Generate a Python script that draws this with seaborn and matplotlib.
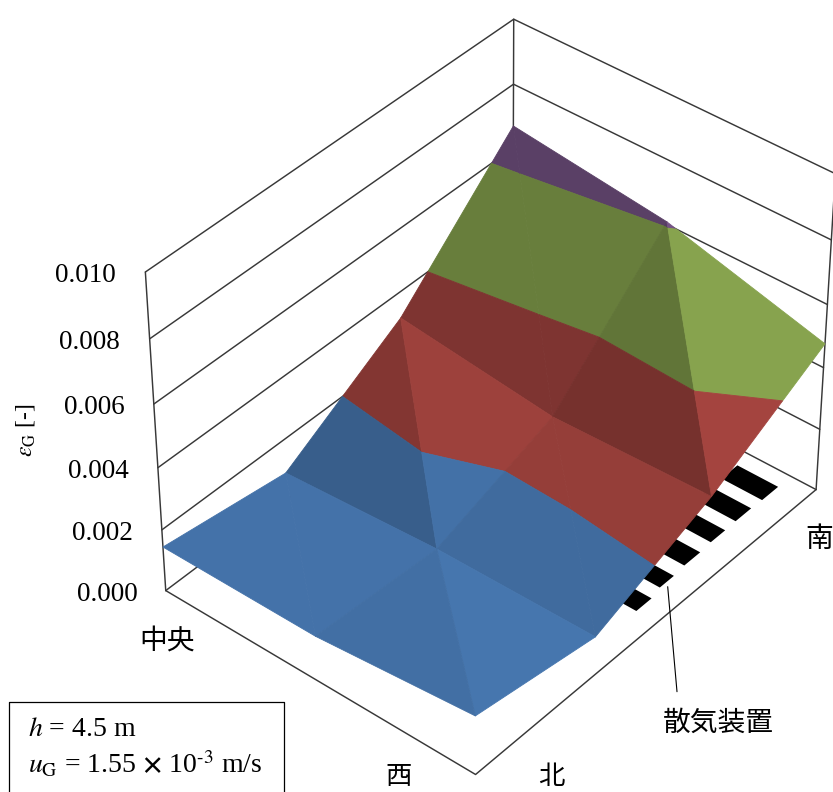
import numpy as np
import matplotlib
matplotlib.use('Agg')
import matplotlib.pyplot as plt
import seaborn as sns
from mpl_toolkits.mplot3d.art3d import Poly3DCollection

# gas holdup, one row per position from north to south
x_pos = [0, 0.5, 1]
y_pos = [0, 1 / 3, 2 / 3, 1]
row_north = [0.00144, 0.00145, 0.00191]
row_2 = [0.00089, 0.00120, 0.00125]
row_3 = [0.00315, 0.00257, 0.00274]
row_south = [0.00669, 0.00608, 0.00476]
holdup = np.array([row_north, row_2, row_3, row_south])

z_ticks = [0.000, 0.002, 0.004, 0.006, 0.008, 0.010]
band_edges = [0.000, 0.002, 0.004, 0.006, 0.008]
band_colors = sns.color_palette(['#4676AE', '#A4443F', '#87A34E', '#755385'])

# brightness of each triangle, lower then upper per cell
cell_shade = [[0.97, 0.97, 0.94, 1.00],
              [0.80, 0.96, 0.91, 0.91],
              [0.77, 0.77, 0.72, 1.00]]

# spargers on the floor
bar_y0 = [0.515, 0.593, 0.670, 0.753, 0.830, 0.910]
bar_y1 = [0.560, 0.635, 0.718, 0.797, 0.878, 0.960]
bar_x1 = [0.935, 0.926, 0.922, 0.919, 0.918, 0.920]
bar_x0 = 0.79

sns.set_theme(style='white', rc={'text.color': 'black', 'mathtext.fontset': 'stix'})
plt.rcParams['font.family'] = ['Liberation Serif', 'DejaVu Serif']
JP = ['Noto Sans CJK JP', 'DejaVu Sans']

W, H = 833, 792
fig = plt.figure(figsize=(W / 100, H / 100), dpi=100)
ax = fig.add_subplot(projection='3d', computed_zorder=False)
ax.set_xlim(0, 1, view_margin=0)
ax.set_ylim(0, 1, view_margin=0)
ax.set_zlim(0, 0.01, view_margin=0)
ax.set_proj_type('persp', focal_length=1.0543)
ax.view_init(elev=39.611, azim=-49.99)
ax.set_box_aspect((1, 1.3352, 0.9982))
ax.set_axis_off()
# square axes placed so the box lands where it is in the picture
S = 777.8
ax.set_position([95.8 / W, 7.1 / H, S / W, S / H])


def clip_band(poly, lo, hi):
    # cut a polygon to the part between two heights
    for level, sign in ((lo, 1), (hi, -1)):
        out = []
        for k in range(len(poly)):
            a, b = poly[k], poly[(k + 1) % len(poly)]
            da, db = sign * (a[2] - level), sign * (b[2] - level)
            if da >= 0:
                out.append(a)
            if da * db < 0:
                out.append(a + (b - a) * da / (da - db))
        poly = out
        if not poly:
            break
    return poly


# box
line = dict(color='#383838', lw=1.05, zorder=1)
for z in z_ticks:
    ax.plot([0, 0, 1], [0, 1, 1], [z, z, z], **line)
for xv, yv in [(0, 0), (0, 1), (1, 1)]:
    ax.plot([xv, xv], [yv, yv], [0, 0.01], **line)
ax.plot([0, 1, 1], [0, 0, 1], [0, 0, 0], **line)

# spargers
bars = [[(bar_x0, a, 0), (b_x, a, 0), (b_x, b, 0), (bar_x0, b, 0)] for a, b, b_x in zip(bar_y0, bar_y1, bar_x1)]
ax.add_collection3d(Poly3DCollection(bars, facecolors='black', edgecolors='none', zorder=2), autolim=False)

# surface split into height bands
verts, colors = [], []
for j in range(len(y_pos) - 1):
    for i in range(len(x_pos) - 1):
        p = [np.array([x_pos[a], y_pos[b], holdup[b, a]]) for a, b in
             [(i, j), (i + 1, j), (i + 1, j + 1), (i, j + 1)]]
        tris = [[p[0], p[1], p[3]], [p[1], p[2], p[3]]]
        for t, tri in enumerate(tris):
            shade = cell_shade[j][2 * i + t]
            for lo, col in zip(band_edges, band_colors):
                piece = clip_band(tri, lo, lo + 0.002)
                if len(piece) >= 3:
                    verts.append(np.array(piece))
                    colors.append(tuple(np.array(col) * shade))
surf = Poly3DCollection(verts, facecolors=colors, edgecolors=colors, linewidths=0.6, zorder=3)
ax.add_collection3d(surf, autolim=False)

for z in z_ticks:
    ax.text(-0.051, -0.036, z - 0.00008, '%.3f' % z, fontsize=19.5, ha='right', va='center', color='black', zorder=5)

# overlay in pixels for the notes
ov = fig.add_axes([0, 0, 1, 1], facecolor='none')
ov.set_xlim(0, W)
ov.set_ylim(H, 0)
ov.set_axis_off()
ov.text(26, 430, r'$\varepsilon_{\mathrm{G}}$ [-]', rotation=90, fontsize=17, ha='center', va='center')
ov.text(167, 641, '中央', family=JP, fontsize=20, ha='center', va='center')
ov.text(399, 776, '西', family=JP, fontsize=19, ha='center', va='center')
ov.text(551, 776, '北', family=JP, fontsize=19, ha='center', va='center')
ov.text(819, 539, '南', family=JP, fontsize=20, ha='center', va='center')
ov.text(718, 723, '散気装置', family=JP, fontsize=20, ha='center', va='center')
ov.plot([667.7, 677], [586.7, 691.7], color='black', lw=0.8)
ov.plot([9, 9, 284, 284], [800, 702, 702, 800], color='black', lw=0.9, clip_on=False)
ov.text(28, 730, r'$h$ = 4.5 m', fontsize=20, ha='left', va='center')
ov.text(28, 764, r'$u_{\mathrm{G}}$ = 1.55 $\boldsymbol{\times}$ 10$^{\text{-}3}$ m/s', fontsize=20, ha='left', va='center')

fig.savefig('out.png', dpi=100)
